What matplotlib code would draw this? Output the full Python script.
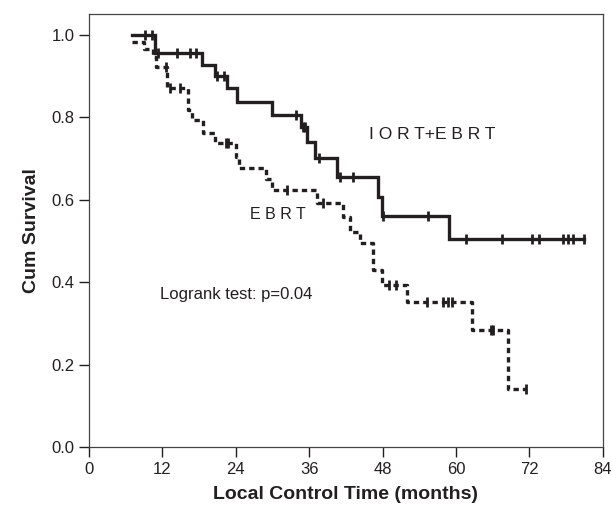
import matplotlib
matplotlib.use("Agg")
import matplotlib.pyplot as plt

# IORT+EBRT arm: step times (months) and survival after each step
iort_times = [7.0, 10.8, 18.5, 20.6, 22.5, 24.2, 29.9, 34.6, 35.6, 36.9, 40.5, 47.2, 47.9, 58.8, 81.0]
iort_surv = [1.0, 0.955, 0.927, 0.900, 0.871, 0.837, 0.805, 0.777, 0.740, 0.700, 0.655, 0.607, 0.560, 0.505, 0.505]
iort_cens = [9.2, 10.3, 11.3, 14.4, 16.5, 17.5, 21.0, 22.0, 33.8, 35.0, 35.3, 37.6, 41.0, 43.1,
             48.0, 55.4, 61.6, 67.5, 72.5, 73.5, 77.5, 78.3, 79.1, 81.0]

# EBRT arm
ebrt_times = [7.0, 9.0, 10.5, 11.0, 12.8, 16.2, 16.8, 18.6, 20.6, 24.0, 24.5, 29.0, 30.0,
              37.2, 41.5, 42.6, 44.3, 46.4, 47.9, 52.0, 62.6, 68.5, 71.4]
ebrt_surv = [0.983, 0.964, 0.945, 0.922, 0.871, 0.818, 0.794, 0.762, 0.738, 0.704, 0.677, 0.650, 0.624,
             0.592, 0.558, 0.522, 0.495, 0.430, 0.393, 0.352, 0.284, 0.140, 0.140]
ebrt_cens = [12.6, 13.2, 14.9, 22.4, 22.7, 32.4, 38.2, 49.0, 50.2, 55.2, 57.8, 58.7, 59.4,
             65.7, 66.0, 71.4]

x_ticks = [0, 12, 24, 36, 48, 60, 72, 84]
y_ticks = [0.0, 0.2, 0.4, 0.6, 0.8, 1.0]

INK = "#231f20"


def surv_at(times, surv, t):
    s = surv[0]
    for ti, si in zip(times, surv):
        if ti <= t:
            s = si
    return s


plt.rcParams["font.family"] = ["Liberation Sans", "DejaVu Sans"]

fig = plt.figure(figsize=(6.12, 5.18), dpi=100)
ax = fig.add_axes([0.1454, 0.137, 0.8396, 0.836])

ax.step(iort_times, iort_surv, where="post", color=INK, lw=2.4, solid_joinstyle="miter")
ax.plot(iort_cens, [surv_at(iort_times, iort_surv, t) for t in iort_cens], ls="none",
        marker="|", markersize=7, mew=2.0, color=INK)

ax.step(ebrt_times, ebrt_surv, where="post", color=INK, lw=2.4, dashes=(1.6, 1.2))
ax.plot(ebrt_cens, [surv_at(ebrt_times, ebrt_surv, t) for t in ebrt_cens], ls="none",
        marker="|", markersize=7, mew=2.0, color=INK)

ax.text(45.7, 0.757, "I O R T+E B R T", fontsize=12.5, color=INK, va="center")
ax.text(26.3, 0.563, "E B R T", fontsize=11.5, color=INK, va="center")
ax.text(11.6, 0.369, "Logrank test: p=0.04", fontsize=12, color=INK, va="center")

ax.set_xlim(0, 84)
ax.set_ylim(0, 1.05)
ax.set_xticks(x_ticks)
ax.set_yticks(y_ticks)
ax.set_yticklabels([f"{v:.1f}" for v in y_ticks])
ax.tick_params(direction="out", length=7, width=1, labelsize=12, colors=INK)
for sp in ax.spines.values():
    sp.set_linewidth(0.9)
    sp.set_color("#444444")

ax.set_xlabel("Local Control Time (months)", fontsize=14, fontweight="bold", color=INK, labelpad=7)
ax.set_ylabel("Cum Survival", fontsize=14, fontweight="bold", color=INK, labelpad=8)

fig.savefig("out.png", dpi=100)
